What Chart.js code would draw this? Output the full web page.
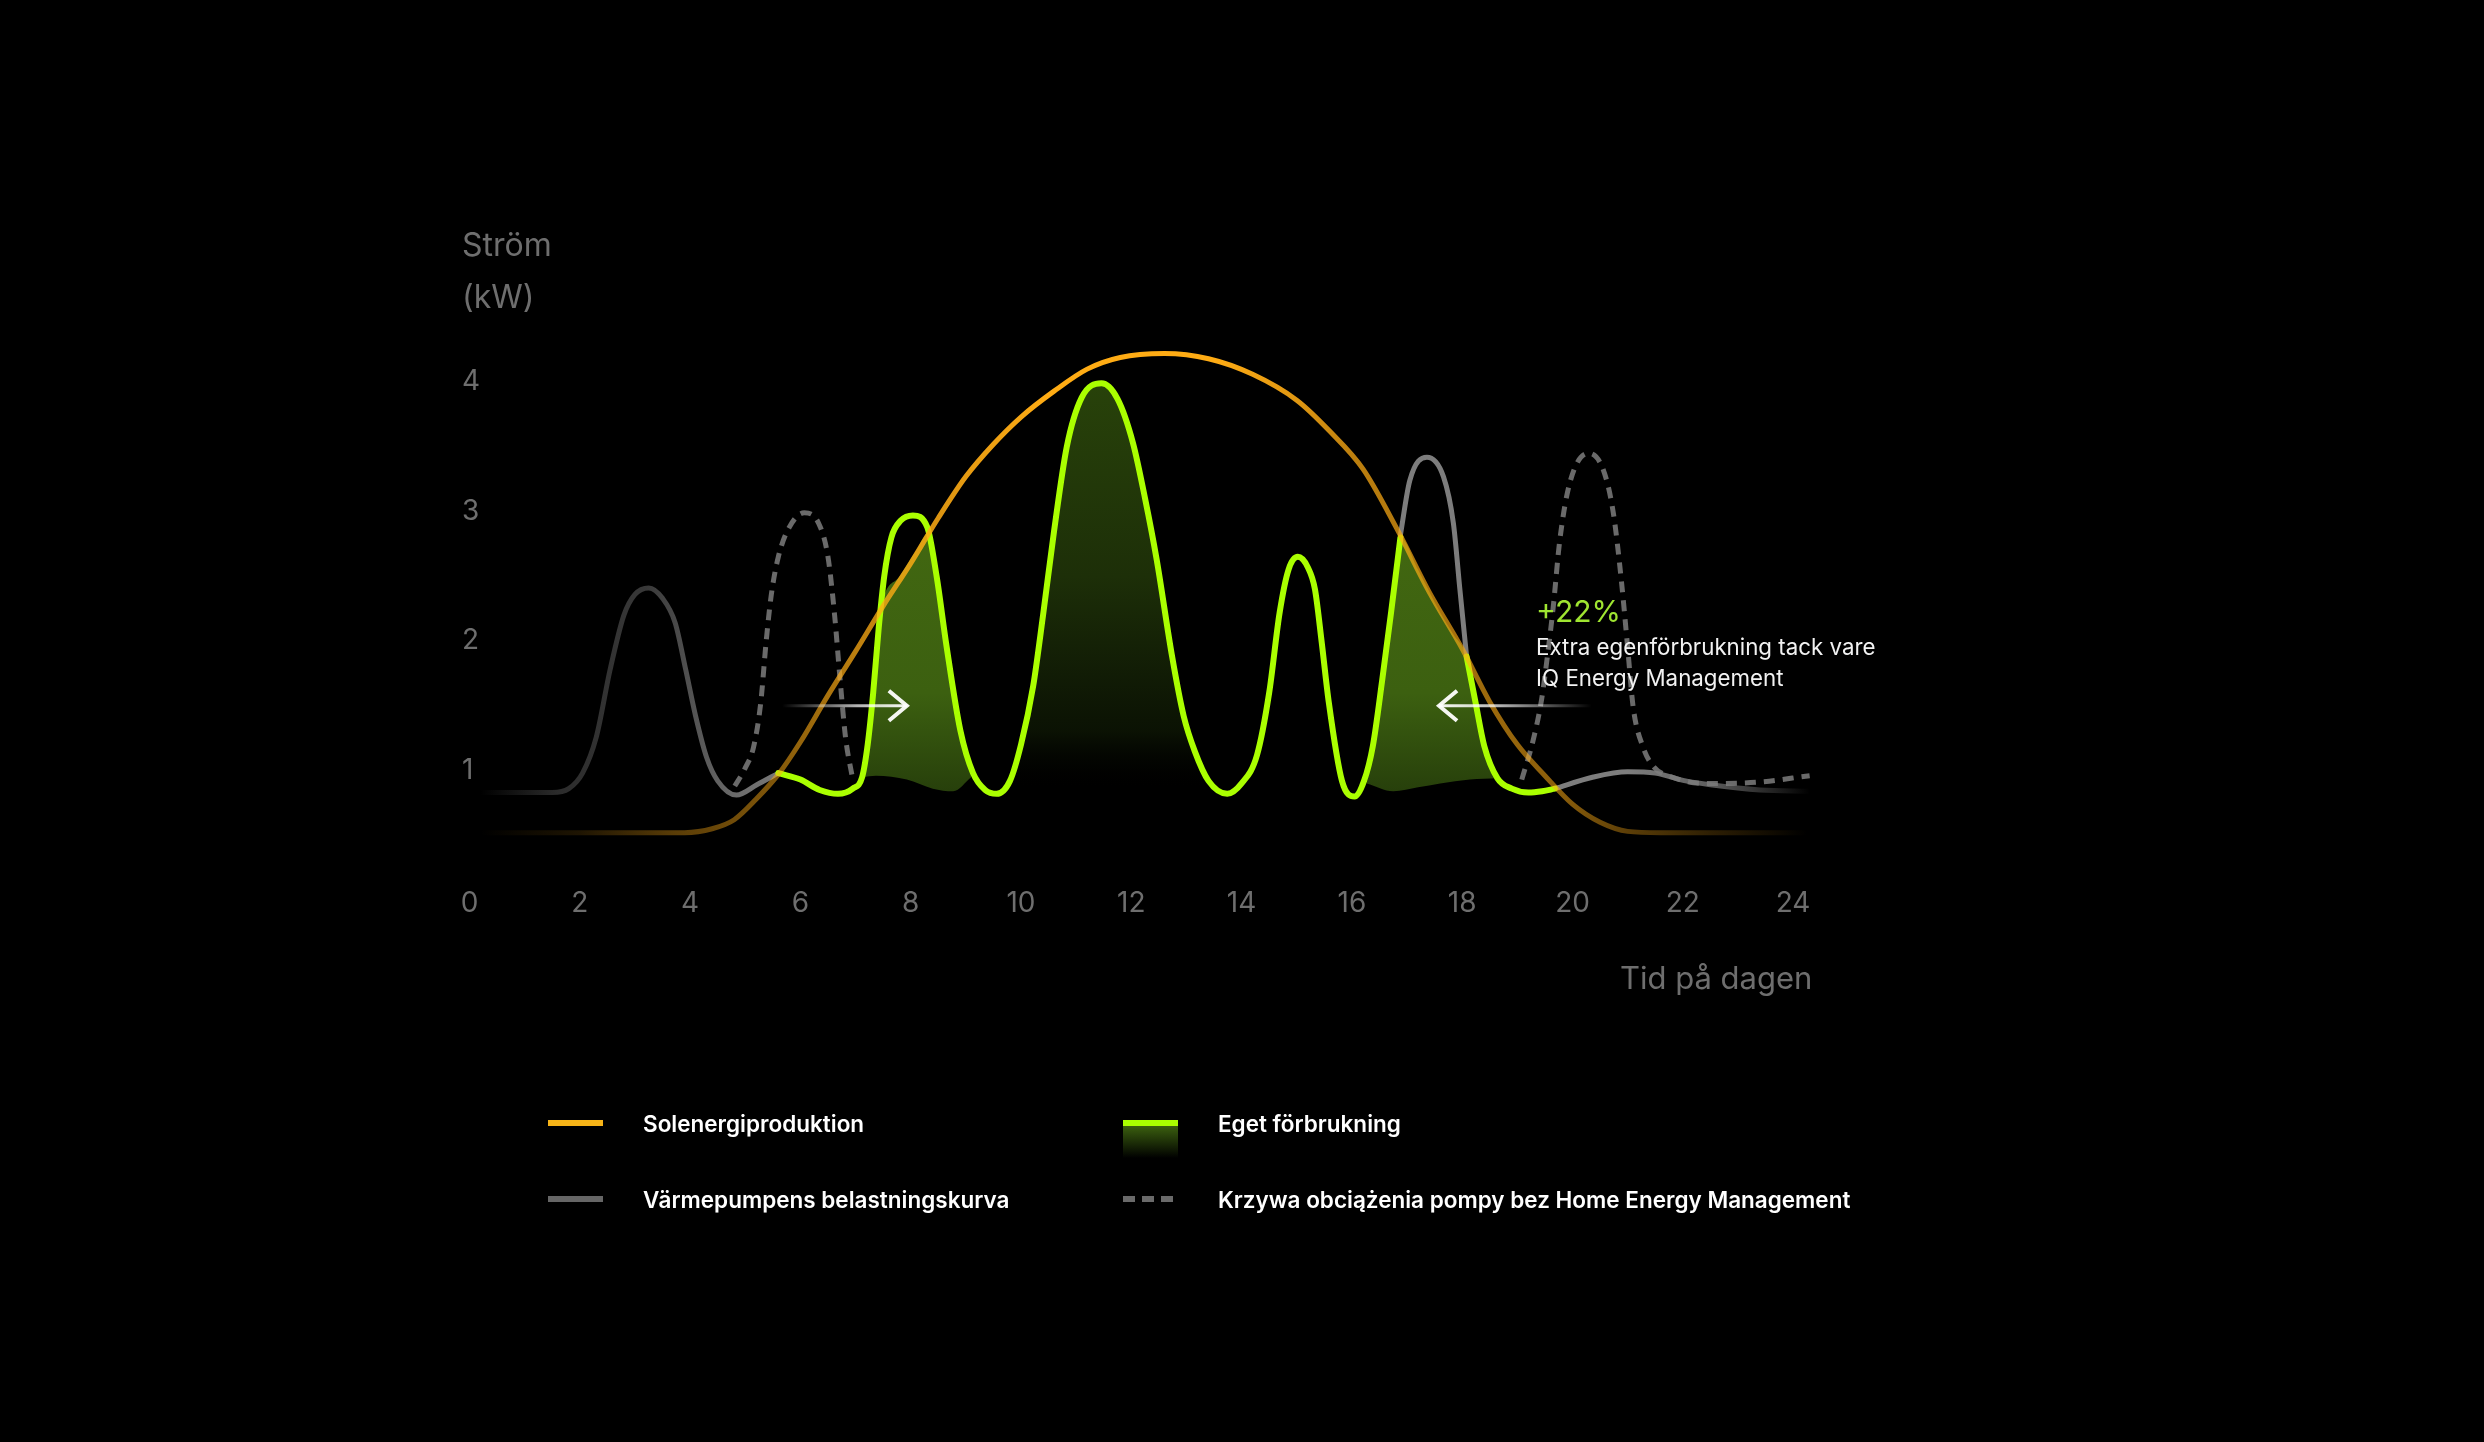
<!DOCTYPE html>
<html lang="sv">
<head>
<meta charset="utf-8">
<title>Solenergi och värmepump</title>
<script src="https://cdn.jsdelivr.net/npm/chart.js@4.4.1/dist/chart.umd.min.js"></script>
<style>
  html, body { margin: 0; padding: 0; background: #000; }
  #wrap { position: relative; width: 2484px; height: 1442px; overflow: hidden; background: #000; }
  #chart { position: absolute; left: 0; top: 0; width: 2484px; height: 1442px; }
  #legend { position: absolute; left: 548px; top: 1085px; display: grid; grid-template-columns: 575px auto; grid-auto-rows: 76px; align-items: center;
            font-family: Inter, sans-serif; font-size: 22.5px; font-weight: 600; color: #fff; white-space: nowrap; }
  .item { display: flex; align-items: center; gap: 40px; }
  .sw { position: relative; width: 55px; height: 6px; flex: none; }
  .sw .glow { position: absolute; left: 0; top: 6px; width: 55px; height: 32px; background: linear-gradient(to bottom, rgba(62,100,16,.95), rgba(0,0,0,0)); }
</style>
</head>
<body>
<div id="wrap">
  <canvas id="chart" width="2484" height="1442"></canvas>
  <div id="legend"></div>
</div>
<script>
/* ===== DATA ===== */
const hourTicks = [0, 2, 4, 6, 8, 10, 12, 14, 16, 18, 20, 22, 24];
const kwTicks   = [1, 2, 3, 4];

// Solenergiproduktion
const solarHours = [0.2, 3.9, 4.4, 4.8, 5.2, 5.6, 6.0, 6.5, 7.0, 7.5, 8.0, 8.5, 9.0, 9.5, 10.0, 10.6, 11.2, 11.8, 12.6, 13.4, 14.2, 15.0, 15.6, 16.2, 16.8, 17.4, 18.0, 18.5, 19.0, 19.5, 20.0, 20.5, 21.0, 21.6, 24.2];
const solarKw    = [0.52, 0.52, 0.55, 0.62, 0.78, 0.97, 1.22, 1.58, 1.92, 2.27, 2.6, 2.95, 3.27, 3.52, 3.73, 3.93, 4.1, 4.19, 4.22, 4.18, 4.06, 3.86, 3.62, 3.33, 2.88, 2.38, 1.94, 1.53, 1.2, 0.96, 0.74, 0.6, 0.53, 0.52, 0.52];

// Värmepumpens belastningskurva (null = hidden behind own consumption)
const pumpHours = [0.2, 1.5, 1.8, 2.05, 2.3, 2.55, 2.8, 3.0, 3.25, 3.5, 3.73, 3.92, 4.1, 4.3, 4.5, 4.84, 5.21, 5.6, 11, 16.88, 17.05, 17.36, 17.66, 17.84, 17.96, 18.08, 18.9, 19.68, 20.38, 21.0, 21.5, 22.05, 22.5, 23.4, 24.3];
const pumpKw    = [0.83, 0.83, 0.86, 0.98, 1.26, 1.78, 2.2, 2.36, 2.41, 2.33, 2.14, 1.78, 1.42, 1.1, 0.92, 0.81, 0.89, 0.98, null, 2.82, 3.24, 3.42, 3.27, 2.91, 2.39, 1.88, null, 0.86, 0.95, 0.99, 0.98, 0.92, 0.89, 0.85, 0.84];

// Eget förbrukning
const ownHours = [5.6, 6.0, 6.35, 6.68, 6.95, 7.12, 7.22, 7.32, 7.42, 7.52, 7.65, 7.82, 8.04, 8.3, 8.47, 8.65, 8.9, 9.13, 9.35, 9.56, 9.8, 10.0, 10.22, 10.4, 10.6, 10.83, 11.1, 11.46, 11.75, 12.03, 12.25, 12.46, 12.74, 12.95, 13.15, 13.4, 13.74, 14.0, 14.28, 14.5, 14.69, 14.85, 15.02, 15.2, 15.33, 15.45, 15.58, 15.82, 16.05, 16.22, 16.38, 16.55, 16.71, 16.88, 17.5, 18.08, 18.24, 18.4, 18.64, 18.9, 19.2, 19.45, 19.68];
const ownKw    = [0.98, 0.93, 0.85, 0.82, 0.86, 0.95, 1.2, 1.6, 2.1, 2.5, 2.8, 2.93, 2.97, 2.88, 2.5, 1.96, 1.31, 0.98, 0.85, 0.82, 0.92, 1.2, 1.65, 2.2, 2.85, 3.5, 3.88, 3.99, 3.87, 3.53, 3.1, 2.63, 1.88, 1.42, 1.15, 0.92, 0.82, 0.9, 1.12, 1.6, 2.22, 2.55, 2.65, 2.57, 2.4, 2.0, 1.53, 0.92, 0.8, 0.92, 1.19, 1.7, 2.22, 2.8, null, 1.88, 1.53, 1.19, 0.94, 0.86, 0.83, 0.84, 0.86];

// Krzywa obciążenia pompy bez Home Energy Management
const noHemHours = [4.81, 5.0, 5.15, 5.28, 5.38, 5.47, 5.6, 5.8, 6.07, 6.33, 6.5, 6.62, 6.72, 6.82, 6.95, 13, 19.08, 19.29, 19.44, 19.55, 19.65, 19.77, 19.95, 20.29, 20.56, 20.74, 20.89, 21.0, 21.1, 21.28, 21.47, 21.8, 22.4, 23.36, 24.3];
const noHemKw    = [0.88, 1.02, 1.18, 1.52, 2.0, 2.35, 2.65, 2.88, 2.99, 2.91, 2.65, 2.2, 1.7, 1.25, 0.93, null, 0.93, 1.24, 1.55, 1.9, 2.26, 2.78, 3.22, 3.45, 3.32, 2.99, 2.45, 1.95, 1.49, 1.18, 1.03, 0.95, 0.9, 0.91, 0.96];

// shifted load areas (top edge and base edge)
const morningTopHours  = [7.12, 7.22, 7.32, 7.42, 7.47, 7.8, 8.1, 8.33, 8.47, 8.65, 8.9, 9.1];
const morningTopKw     = [0.95, 1.2, 1.6, 2.1, 2.27, 2.5, 2.7, 2.84, 2.5, 1.96, 1.31, 0.95];
const morningBaseHours = [7.12, 7.37, 7.93, 8.4, 8.77, 9.1];
const morningBaseKw    = [0.95, 0.96, 0.93, 0.86, 0.84, 0.95];
const eveningTopHours  = [16.27, 16.38, 16.55, 16.71, 16.88, 17.2, 17.6, 17.84, 18.08, 18.24, 18.4, 18.64];
const eveningTopKw     = [0.9, 1.19, 1.7, 2.22, 2.8, 2.55, 2.22, 2.05, 1.88, 1.53, 1.19, 0.94];
const eveningBaseHours = [16.27, 16.75, 17.2, 17.6, 18.14, 18.64];
const eveningBaseKw    = [0.9, 0.84, 0.87, 0.9, 0.93, 0.94];

// annotation
const arrows    = [{ from: 5.67, to: 7.93, kw: 1.5 }, { from: 20.35, to: 17.58, kw: 1.5 }];
const noteHour  = 19.34;
const noteKw    = 2.22;
const noteLines = ['+22%', 'Extra egenförbrukning tack vare', 'IQ Energy Management'];

/* ===== STYLE ===== */
const AXIS_GREY = '#6e6e6e';
const GREEN     = '#aaff00';
const solarFade = [[0.2,0],[2,0.12],[3.7,0.35],[5.5,0.5],[7,0.74],[9,0.9],[10.5,1],[13.5,1],[15,0.88],[16,0.74],[18,0.64],[19.8,0.54],[21,0.36],[22.5,0.18],[24.25,0]];
const pumpFade  = [[0.2,0],[1.6,0.35],[3.2,0.45],[4.8,0.85],[6,1],[21,1],[22.5,0.75],[24.3,0]];

const pts = (hours, kw) => hours.map((h, i) => ({ x: h, y: kw[i] }));

function hGradient(chart, rgb, stops) {
  const { ctx, chartArea, scales } = chart;
  if (!chartArea) return 'rgba(' + rgb + ',1)';
  const g = ctx.createLinearGradient(chartArea.left, 0, chartArea.right, 0);
  const w = chartArea.right - chartArea.left;
  stops.forEach(([h, a]) => {
    const o = Math.min(1, Math.max(0, (scales.x.getPixelForValue(h) - chartArea.left) / w));
    g.addColorStop(o, 'rgba(' + rgb + ',' + a + ')');
  });
  return g;
}

function vGradient(chart, stops) {
  const { ctx, chartArea, scales } = chart;
  if (!chartArea) return 'transparent';
  const y0 = scales.y.getPixelForValue(stops[0][0]);
  const y1 = scales.y.getPixelForValue(stops[stops.length - 1][0]);
  const g = ctx.createLinearGradient(0, y0, 0, y1);
  stops.forEach(([v, c]) => g.addColorStop((scales.y.getPixelForValue(v) - y0) / (y1 - y0), c));
  return g;
}

const centerFill = [[4.0,'rgba(40,66,10,1)'],[2.5,'rgba(29,47,8,1)'],[1.3,'rgba(12,20,4,0.9)'],[0.85,'rgba(0,0,0,0)']];
const patchFill  = [[3.0,'rgba(66,104,17,1)'],[1.6,'rgba(60,96,16,1)'],[0.8,'rgba(38,62,11,1)']];

const centerIdx = ownHours.map((h, i) => i).filter(i => ownHours[i] >= 9.56 && ownHours[i] <= 13.74);

const lineBase = { pointRadius: 0, pointHoverRadius: 0, cubicInterpolationMode: 'monotone', fill: false, borderJoinStyle: 'round' };

const datasets = [
  { ...lineBase, label: 'Solenergiproduktion', legendKind: 'solar', data: pts(solarHours, solarKw),
    borderColor: c => hGradient(c.chart, '255,172,20', solarFade), borderWidth: 5, borderCapStyle: 'round' },
  { ...lineBase, label: 'Eget förbrukning', legendKind: 'own', data: pts(ownHours, ownKw),
    borderColor: GREEN, borderWidth: 6, borderCapStyle: 'round' },
  { ...lineBase, label: 'Värmepumpens belastningskurva', legendKind: 'pump', data: pts(pumpHours, pumpKw),
    borderColor: c => hGradient(c.chart, '125,125,125', pumpFade), borderWidth: 5, borderCapStyle: 'round' },
  { ...lineBase, label: 'Krzywa obciążenia pompy bez Home Energy Management', legendKind: 'nohem', data: pts(noHemHours, noHemKw),
    borderColor: '#6a6a6a', borderWidth: 5, borderDash: [11, 8] },
  { ...lineBase, label: 'center', data: centerIdx.map(i => ({ x: ownHours[i], y: ownKw[i] })),
    borderWidth: 0, borderColor: 'transparent', fill: 'origin', backgroundColor: c => vGradient(c.chart, centerFill) },
  { ...lineBase, label: 'morningTop', data: pts(morningTopHours, morningTopKw),
    borderWidth: 0, borderColor: 'transparent', fill: '+1', backgroundColor: c => vGradient(c.chart, patchFill) },
  { ...lineBase, label: 'morningBase', data: pts(morningBaseHours, morningBaseKw), borderWidth: 0, borderColor: 'transparent' },
  { ...lineBase, label: 'eveningTop', data: pts(eveningTopHours, eveningTopKw),
    borderWidth: 0, borderColor: 'transparent', fill: '+1', backgroundColor: c => vGradient(c.chart, patchFill) },
  { ...lineBase, label: 'eveningBase', data: pts(eveningBaseHours, eveningBaseKw), borderWidth: 0, borderColor: 'transparent' }
];

/* ===== PLUGINS ===== */
const annotation = {
  id: 'annotation',
  afterDatasetsDraw(chart) {
    const { ctx, scales: { x, y } } = chart;
    ctx.save();
    arrows.forEach(a => {
      const x0 = x.getPixelForValue(a.from), x1 = x.getPixelForValue(a.to), py = y.getPixelForValue(a.kw);
      const g = ctx.createLinearGradient(x0, 0, x1, 0);
      g.addColorStop(0, 'rgba(255,255,255,0)');
      g.addColorStop(0.6, 'rgba(255,255,255,0.7)');
      g.addColorStop(1, 'rgba(255,255,255,0.95)');
      ctx.strokeStyle = g;
      ctx.lineWidth = 3;
      ctx.beginPath(); ctx.moveTo(x0, py); ctx.lineTo(x1, py); ctx.stroke();
      const dir = Math.sign(x1 - x0);
      ctx.strokeStyle = 'rgba(255,255,255,0.95)';
      ctx.lineWidth = 4;
      ctx.beginPath();
      ctx.moveTo(x1 - dir * 18, py - 15); ctx.lineTo(x1, py); ctx.lineTo(x1 - dir * 18, py + 15);
      ctx.stroke();
    });
    const tx = x.getPixelForValue(noteHour), ty = y.getPixelForValue(noteKw);
    ctx.textAlign = 'left';
    ctx.textBaseline = 'middle';
    ctx.fillStyle = '#9fe531';
    ctx.font = '400 30px Inter, sans-serif';
    ctx.fillText(noteLines[0], tx, ty);
    ctx.fillStyle = '#f2f2f2';
    ctx.font = '400 22.3px Inter, sans-serif';
    ctx.fillText(noteLines[1], tx, ty + 36);
    ctx.fillText(noteLines[2], tx, ty + 67);
    ctx.restore();
  }
};

const swatchCss = {
  solar: 'background:#f7b418;',
  own:   'background:' + GREEN + ';',
  pump:  'background:#666;',
  nohem: 'background:repeating-linear-gradient(to right,#6a6a6a 0 12px,transparent 12px 19px);'
};

const htmlLegend = {
  id: 'htmlLegend',
  afterUpdate(chart) {
    const box = document.getElementById('legend');
    box.innerHTML = '';
    chart.data.datasets.filter(d => d.legendKind).forEach(d => {
      const item = document.createElement('div');
      item.className = 'item';
      const sw = document.createElement('span');
      sw.className = 'sw';
      sw.style.cssText = swatchCss[d.legendKind];
      if (d.legendKind === 'own') sw.innerHTML = '<span class="glow"></span>';
      const txt = document.createElement('span');
      txt.textContent = d.label;
      item.appendChild(sw);
      item.appendChild(txt);
      box.appendChild(item);
    });
  }
};

/* ===== CHART ===== */
Chart.defaults.font.family = 'Inter, sans-serif';

new Chart(document.getElementById('chart'), {
  type: 'line',
  data: { datasets },
  plugins: [annotation, htmlLegend],
  options: {
    responsive: false,
    devicePixelRatio: 1,
    animation: false,
    events: [],
    layout: { padding: { left: 462, right: 671.6, top: 0, bottom: 444 } },
    plugins: {
      legend: { display: false },
      tooltip: { enabled: false },
      title: {
        display: true, text: ['Ström', '(kW)'], align: 'start', color: AXIS_GREY,
        font: { size: 32, weight: '400', lineHeight: 1.61 }, padding: { top: 220.75, bottom: 0 }
      }
    },
    scales: {
      x: {
        type: 'linear', min: 0, max: 24.35,
        grid: { display: false }, border: { display: false },
        afterBuildTicks: s => { s.ticks = hourTicks.map(v => ({ value: v })); },
        afterFit: s => { s.height = 98; },
        // mirror keeps the labels unclipped; they sit centred on the zero line
        ticks: { color: AXIS_GREY, font: { size: 28 }, mirror: true, padding: -20.8, maxRotation: 0, autoSkip: false },
        title: { display: true, text: 'Tid på dagen', align: 'end', color: AXIS_GREY, font: { size: 31 }, padding: 0 }
      },
      y: {
        min: 0, max: 4.45,
        grid: { display: false }, border: { display: false },
        afterBuildTicks: s => { s.ticks = kwTicks.map(v => ({ value: v })); },
        afterFit: s => { s.width = 7.5; },
        ticks: { color: AXIS_GREY, font: { size: 28 }, mirror: true, padding: -7.5 }
      }
    }
  }
});
</script>
</body>
</html>
